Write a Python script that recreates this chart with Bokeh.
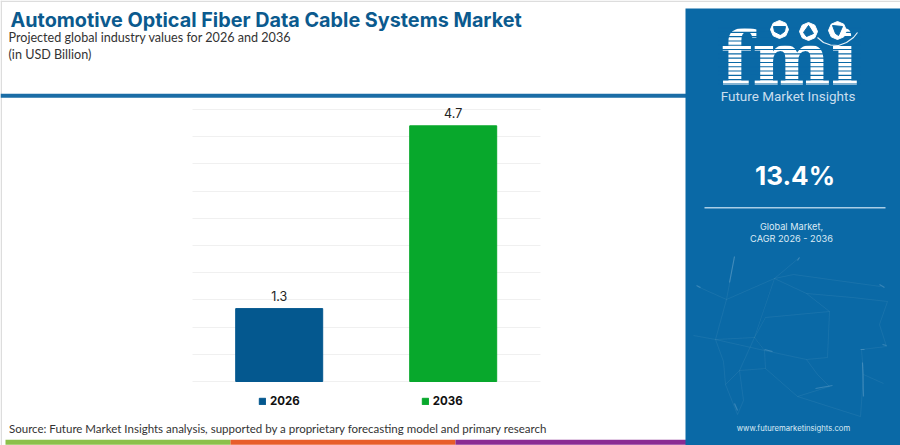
from bokeh.plotting import figure
from bokeh.core.properties import value
from bokeh.models import (ColumnDataSource, Label, BoxAnnotation, PolyAnnotation, Legend, LegendItem,
                          SingleIntervalTicker, Range1d)
from bokeh.embed import file_html
from bokeh.resources import INLINE

# ---- data ----
years = [2026, 2036]
year_names = ["2026", "2036"]
values = [1.34, 4.7]
value_labels = ["1.3", "4.7"]
bar_colors = ["#04588F", "#08A82C"]

title_text = "Automotive Optical Fiber Data Cable Systems Market"
subtitle_lines = ["Projected global industry values for 2026 and 2036", "(in USD Billion)"]
source_text = "Source: Future Market Insights analysis, supported by a proprietary forecasting model and primary research"
cagr_text = "13.4%"
cagr_caption = ["Global Market,", "CAGR 2026 - 2036"]
brand_name = "Future Market Insights"
website = "www.futuremarketinsights.com"

# ---- layout: frame fills the canvas, scales put the chart where the reference has it ----
W, H = 900, 445
BASE_Y, PX_PER_UNIT = 381, 54.4
X0_PX, PX_PER_YEAR = 278.7, 17.4
x_start = years[0] - X0_PX / PX_PER_YEAR
y_start = -(H - BASE_Y) / PX_PER_UNIT
p = figure(width=W, height=H,
           x_range=Range1d(x_start, x_start + W / PX_PER_YEAR),
           y_range=Range1d(y_start, y_start + H / PX_PER_UNIT),
           output_backend="svg", toolbar_location=None,
           min_border=0, min_border_left=0, min_border_right=0, min_border_top=0, min_border_bottom=0)
p.outline_line_color = None
p.background_fill_color = "white"
p.border_fill_color = "white"
p.xaxis.visible = False
p.yaxis.visible = False
p.xgrid.visible = False
p.ygrid.ticker = SingleIntervalTicker(interval=0.5)
p.ygrid.bounds = (0, 5)
p.ygrid.cross_bounds = (years[0] - 5, years[1] + 5)
p.ygrid.grid_line_color = "#F0F0F0"
p.ygrid.grid_line_width = 1

src = ColumnDataSource(dict(year=years, value=values, label=value_labels, color=bar_colors))
bars = p.vbar(x="year", top="value", width=5, color="color", source=src)
p.text(x="year", y="value", text="label", source=src, text_align="center", y_offset=-8,
       text_font=value("Inter"), text_font_size="12.5px", text_color="#222222")

legend = Legend(items=[LegendItem(label=year_names[0], renderers=[bars], index=0),
                       LegendItem(label=year_names[1], renderers=[bars], index=1)],
                orientation="horizontal", location=(258, 37), glyph_width=8, glyph_height=8,
                spacing=121, label_standoff=4, padding=0, margin=0, border_line_color=None,
                background_fill_alpha=0, label_text_font="Inter", label_text_font_style="bold",
                label_text_font_size="11.5px", label_text_color="#111111")
p.add_layout(legend, "center")

def box(l, t, r, b, color, alpha=1.0):
    p.add_layout(BoxAnnotation(left=l, right=r, top=t, bottom=b, left_units="canvas", right_units="canvas",
                               top_units="canvas", bottom_units="canvas", fill_color=color, fill_alpha=alpha,
                               line_color=None, level="overlay"))

BASELINE_SHIFT = 0.365  # Label sits this many em below the requested baseline

def text(x, y, s, size, color, font="Inter", style="normal", align="left"):
    p.add_layout(Label(x=x, y=y - BASELINE_SHIFT * size, x_units="canvas", y_units="canvas", text=s, text_font=font,
                       text_font_size=f"{size}px", text_font_style=style, text_color=color,
                       text_align=align, text_baseline="alphabetic", level="overlay"))

def poly(pts, color, alpha, width=1.0, fill=None):
    xs, ys = zip(*pts)
    p.add_layout(PolyAnnotation(xs=list(xs), ys=list(ys), xs_units="canvas", ys_units="canvas",
                                fill_color=fill or color, fill_alpha=1 if fill else 0,
                                line_color=color, line_alpha=alpha, line_width=width, level="overlay"))

def path(pts, color, alpha, width=1.0):
    poly(pts + pts[::-1], color, alpha, width)

# page frame and rule
box(0, 0, 900, 1.5, "#DDDDDD")
box(0, 0, 1.5, 445, "#DDDDDD")
box(0, 93.3, 686, 97.3, "#1A6DA6")

# bottom tricolor strip
box(5, 439.3, 230, 444.3, "#8CC04A")
box(230, 439.3, 455, 444.3, "#E85D2A")
box(455, 439.3, 686, 444.3, "#8A2C93")

# side panel
PANEL = "#0A69A6"
box(685, 8, 900, 444.5, PANEL)

# faint network in panel
mesh = [[(734,256),(726,299),(715,339),(723,361),(725,384),(737,414)],
        [(697,286),(726,299),(774,278),(793,274),(880,286)],
        [(799,257),(774,278),(754,337),(739,370),(725,384)],
        [(806,293),(852,297),(887,301),(879,324),(886,346),(861,349)],
        [(774,278),(806,293),(829,311),(827,357),(806,359),(764,350),(715,339)],
        [(693,335),(715,339),(754,337),(764,350),(765,368),(739,370),(743,400)],
        [(765,317),(754,337)], [(806,359),(817,374),(829,386),(797,396),(765,368)],
        [(861,349),(863,374),(860,416)], [(883,383),(863,374)], [(829,311),(765,317)],
        [(743,400),(737,414)], [(797,396),(860,416)]]
for seg in mesh:
    path(seg, "#9CC6E0", 0.05)
bright = [[(734,256),(729,282)], [(799,257),(797,260)], [(862,362),(863,396)], [(815,388),(832,385)],
          [(734,403),(737,410)], [(764,349),(772,351)], [(696,285),(700,287)], [(886,345),(882,344)],
          [(860,349),(864,349)], [(879,284),(884,287)]]
for seg in bright:
    path(seg, "#BBD9EC", 0.25, 1.2)

# logo
LOGO_TEXT = "fmi"
text(789, 86, LOGO_TEXT, 74, "white", font="DejaVu Serif", style="bold", align="center")
box(824, 36, 858, 44.5, PANEL)            # hides the dot of the i; a globe replaces it
for i in range(14):
    y = 27 + 4.3 * i
    box(718, y, 860, y + 1.1, PANEL)
globes = [(779, 29), (808, 31), (837, 30)]
for cx, cy in globes:
    r = 9
    poly([(cx-r, cy), (cx-r*.7, cy-r*.7), (cx, cy-r), (cx+r*.7, cy-r*.7), (cx+r, cy),
          (cx+r*.7, cy+r*.7), (cx, cy+r), (cx-r*.7, cy+r*.7)], "white", 1, fill="white")
poly([(773, 26), (785, 26), (784, 31), (780, 34), (774, 31)], PANEL, 1, fill=PANEL)
poly([(808, 25), (813, 33), (806, 36), (803, 32)], PANEL, 1, fill=PANEL)
poly([(832, 25), (842, 26), (838, 35), (835, 33)], PANEL, 1, fill=PANEL)
path([(817, 37), (823, 42), (830, 44.5), (838, 45), (846, 42), (853, 37), (857, 32)], "#E6F0F7", 1, 1.2)
text(787.5, 100, brand_name, 13.5, "#C9DEEE", font="Roboto", align="center")

text(794.5, 184, cagr_text, 26, "white", style="bold", align="center")
box(704, 206.5, 885, 208, "#A9CEE6")
text(791, 229, cagr_caption[0], 9.2, "#DCEBF5", align="center")
text(791, 241, cagr_caption[1], 9.2, "#DCEBF5", align="center")
text(793, 431, website, 7.7, "#DCEBF5", align="center")

# headings
text(10, 27, title_text, 19.8, "#0B5A8E", style="bold")
text(8, 42, subtitle_lines[0], 12.6, "#333333", font="Lato")
text(8, 59, subtitle_lines[1], 12.6, "#333333", font="Lato")
text(8.5, 432, source_text, 11.5, "#333333", font="Lato")

open("out.html", "w").write(file_html(p, INLINE))
